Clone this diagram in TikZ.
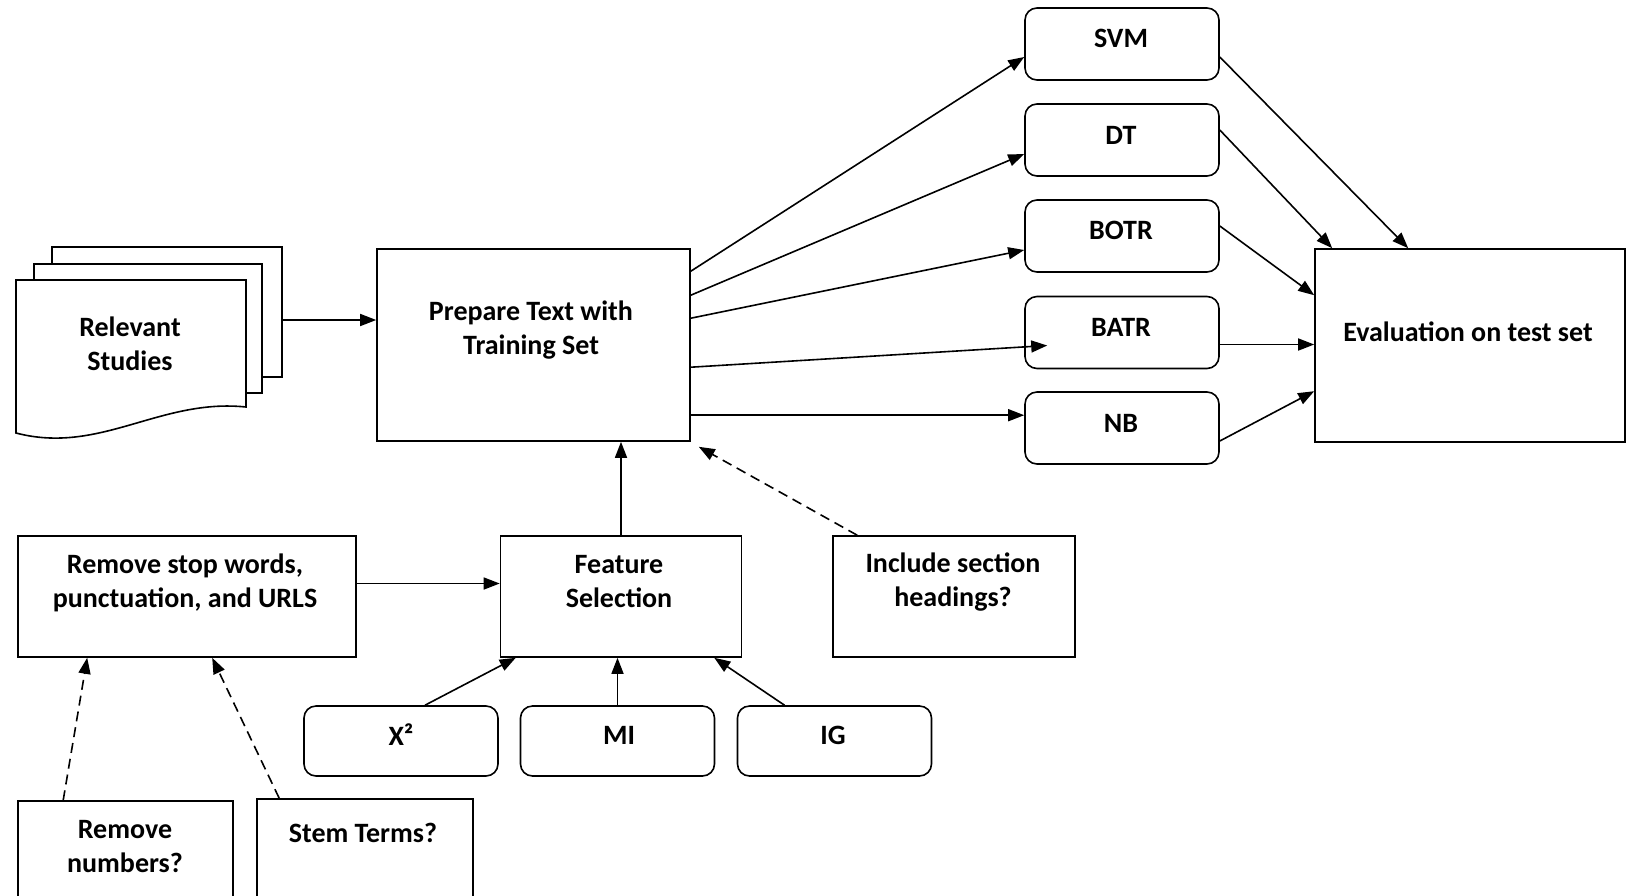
\documentclass[tikz,border=0pt]{standalone}
\usepackage{fontspec}
\setmainfont{Carlito}
\usetikzlibrary{arrows.meta,calc}

\tikzset{
  box/.style={draw, line width=0.8pt, fill=white, inner sep=0pt},
  rbox/.style={box, rounded corners=6pt, minimum width=97pt, minimum height=36pt},
  lbl/.style={align=center, font=\fontsize{14}{17}\selectfont\bfseries, inner sep=0pt},
  arr/.style={line width=0.8pt, -{Triangle[length=8pt,width=6pt]}},
  darr/.style={arr, dash pattern=on 5pt off 3pt},
}

\begin{document}
\begin{tikzpicture}[x=0.5pt,y=-0.5pt]
    \useasboundingbox (0,0) rectangle (1627,895);

    % Draw stack of studies
    \node[box, minimum width=115pt, minimum height=65pt] (docs) at (167,312) {};
    \filldraw[line width=0.8pt, fill=white] (34,264) rectangle (262,393);
    \filldraw[line width=0.8pt, fill=white] (16,280) -- (246,280) -- (246,407)
        .. controls (160,398) and (100,455) .. (16,433) -- cycle;
    \node[lbl] (docs-t) at (130,344) {Relevant\\Studies};

    % Draw main boxes
    \node[box, minimum width=156.5pt, minimum height=96pt] (prep) at (533.5,345) {};
    \node[lbl] (prep-t) at (531,330) {Prepare Text with\\Training Set};
    \node[box, minimum width=155pt, minimum height=96.5pt] (eval) at (1470,345.5) {};
    \node[lbl] (eval-t) at (1468,332) {Evaluation on test set};

    % Draw classifiers
    \node[rbox] (svm) at (1122,44) {};
    \node[rbox] (dt) at (1122,140) {};
    \node[rbox] (botr) at (1122,236) {};
    \node[rbox] (batr) at (1122,332.5) {};
    \node[rbox] (nb) at (1122,428) {};
    \node[lbl] at (1121,38) {SVM};
    \node[lbl] at (1121,135) {DT};
    \node[lbl] at (1121,230) {BOTR};
    \node[lbl] at (1121,327) {BATR};
    \node[lbl] at (1121,423) {NB};

    % Draw preprocessing boxes
    \node[box, minimum width=169pt, minimum height=60.5pt] (stop) at (187,596.5) {};
    \node[lbl] (stop-t) at (185,583) {Remove stop words,\\punctuation, and URLS};
    \node[box, minimum width=120.5pt, minimum height=60.5pt] (feat) at (621,596.5) {};
    \node[lbl] (feat-t) at (619,582) {Feature\\Selection};
    \node[box, minimum width=121pt, minimum height=60.5pt] (incl) at (954,596.5) {};
    \node[lbl] (incl-t) at (953,582) {Include section\\headings?};

    % Draw feature measures
    \node[rbox, minimum height=35pt] (chi) at (401,741) {};
    \node[rbox, minimum height=35pt] (mi) at (617.5,741) {};
    \node[rbox, minimum height=35pt] (ig) at (834.5,741) {};
    \node[lbl] at (401,735) {X²};
    \node[lbl] at (619,735) {MI};
    \node[lbl] at (833,735) {IG};

    % Draw options (cut off at the bottom)
    \node[box, minimum width=107.5pt, minimum height=59.5pt] (nums) at (125.5,860.5) {};
    \node[lbl] (nums-t) at (125,847) {Remove\\numbers?};
    \node[box, minimum width=108pt, minimum height=60.5pt] (stem) at (365,859.5) {};
    \node[lbl] (stem-t) at (363,833) {Stem Terms?};

    % Arrow end points
    \coordinate (nb-in) at ($(prep.north east)+(0,167)$);
    \coordinate (batr-out) at ($(batr.east)+(0,12)$);
    \coordinate (stop-out) at ($(stop.east)+(0,-13)$);

    % Draw arrows
    \draw[arr] ([yshift=-4pt]docs.east) -- ([yshift=-4pt]docs.east -| prep.west);
    \draw[arr] ($(prep.north east)+(0,23)$) -- ($(svm.west)+(0,13)$);
    \draw[arr] ($(prep.north east)+(0,47)$) -- ($(dt.west)+(0,14)$);
    \draw[arr] ($(prep.north east)+(0,70)$) -- ($(botr.west)+(0,14)$);
    \draw[arr] ($(prep.north east)+(0,119)$) -- ($(batr.west)+(23,13)$);
    \draw[arr] (nb-in) -- (nb-in -| nb.west);

    \draw[arr] ($(svm.east)+(0,13)$) -- ($(eval.north west)+(94,0)$);
    \draw[arr] ($(dt.east)+(0,-10)$) -- ($(eval.north west)+(18,0)$);
    \draw[arr] ($(botr.east)+(0,-10)$) -- ($(eval.north west)+(0,47)$);
    \draw[arr] (batr-out) -- (batr-out -| eval.west);
    \draw[arr] ($(nb.east)+(0,13)$) -- ($(eval.north west)+(0,143)$);

    \draw[arr] (stop-out) -- (stop-out -| feat.west);
    \draw[arr] (feat.north) -- (feat.north |- prep.south);
    \draw[darr] ($(incl.north west)+(25,0)$) -- ($(prep.south east)+(8,5)$);

    \draw[arr] ($(chi.north)+(24,0)$) -- ($(feat.south west)+(16,0)$);
    \draw[arr] (mi.north) -- (mi.north |- feat.south);
    \draw[arr] ($(ig.north)+(-50,0)$) -- ($(feat.south east)+(-28,0)$);

    \draw[darr] ($(nums.north west)+(46,0)$) -- ($(stop.south west)+(70,0)$);
    \draw[darr] ($(stem.north west)+(23,0)$) -- ($(stop.south west)+(195,0)$);
\end{tikzpicture}
\end{document}
